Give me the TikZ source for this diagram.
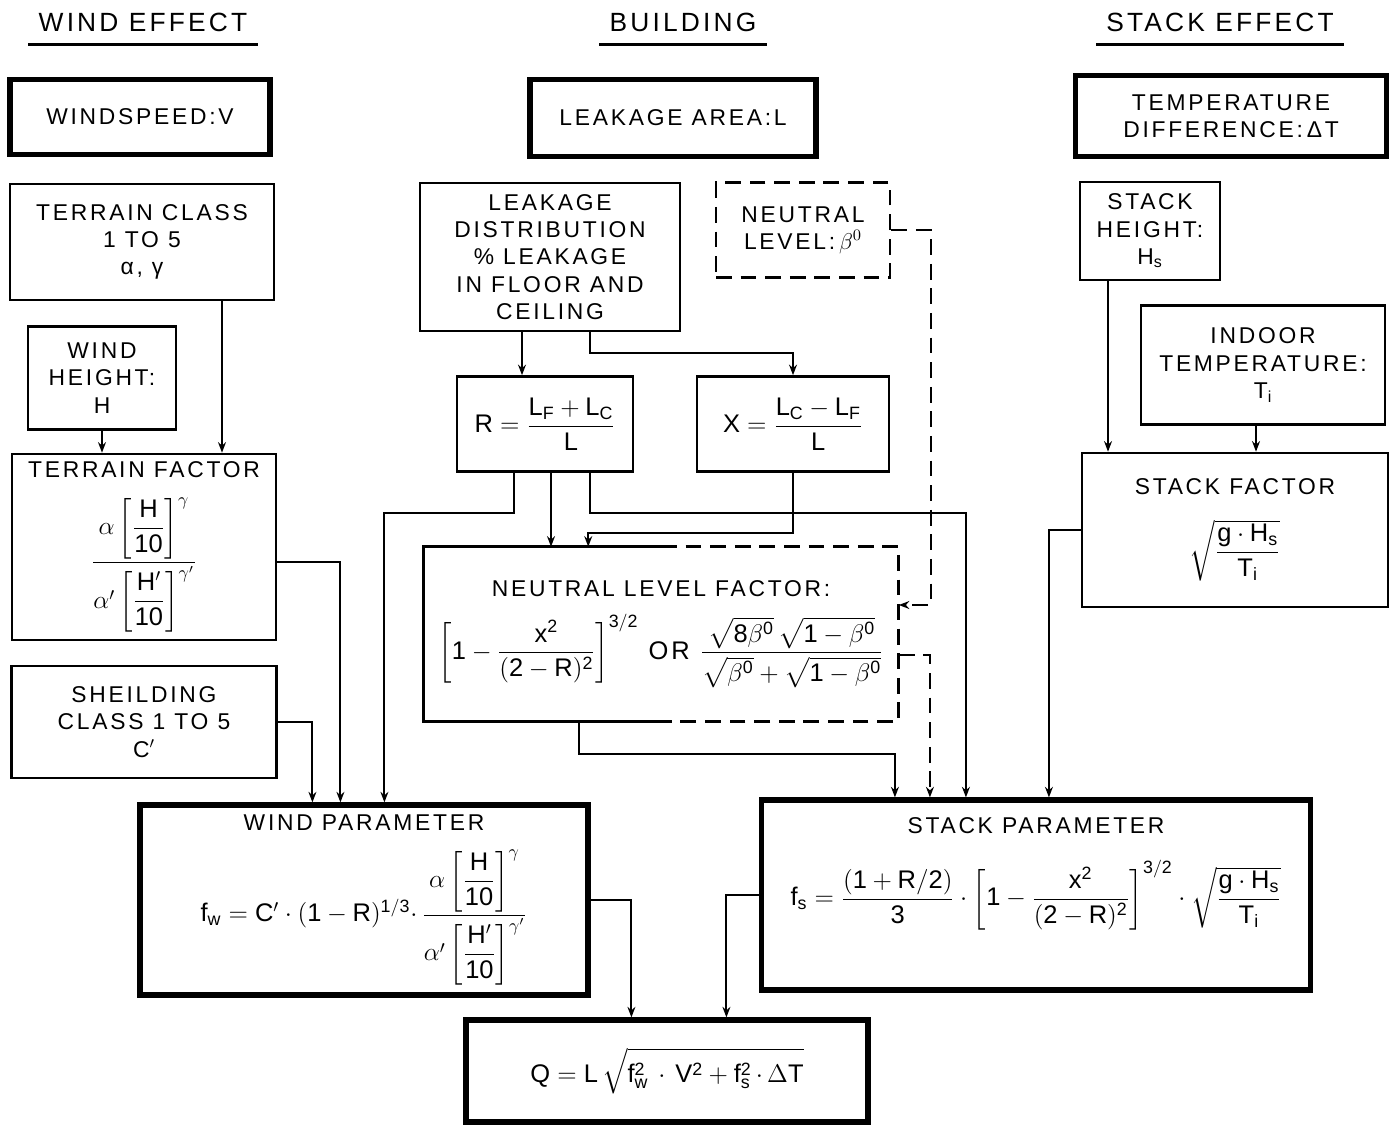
\documentclass[tikz,border=0pt]{standalone}
\usepackage{fix-cm}
\usepackage{amsmath}
\usepackage{fontspec}
\setmainfont{Liberation Sans}[LetterSpace=12]
\setsansfont{Liberation Sans}
\usepackage{tikz}
\usetikzlibrary{arrows.meta,positioning,calc}

\newcommand{\mathbig}{\fontsize{14.5}{17}\selectfont}
\newcommand{\terrainfrac}{\mathsf{\dfrac{\alpha\left[\dfrac{H}{10}\right]^{\gamma}}{\alpha'\left[\dfrac{H'}{10}\right]^{\gamma'}}}}

\tikzset{
  thinbox/.style={draw, line width=1.5pt, align=center, inner sep=2pt},
  thickbox/.style={draw, line width=3pt, align=center, inner sep=2pt},
  dashbox/.style={thinbox, dash pattern=on 9pt off 5pt},
  dashline/.style={dash pattern=on 9pt off 5pt},
  arr/.style={-{Stealth[length=6pt,width=4.5pt]}, line width=1.2pt},
  heading/.style={font=\fontsize{15}{18}\selectfont, inner xsep=0.2cm, inner ysep=0.26cm},
}

\begin{document}
\begin{tikzpicture}[x=0.02cm, y=-0.02cm, font=\fontsize{13}{15.5}\selectfont]
  \useasboundingbox (0,0) rectangle (1391,1125);

  % column headings
  \node[heading] (hwind) at (143,22) {WIND EFFECT};
  \node[heading] (hbuild) at (683,22) {BUILDING};
  \node[heading] (hstack) at (1220,22) {STACK EFFECT};
  \foreach \h in {hwind,hbuild,hstack}
    \draw[line width=1.6pt] (\h.south west) -- (\h.south east);

  % wind effect
  \node[thickbox, minimum width=5.2cm, minimum height=1.5cm] (wspeed) at (140,117) {WINDSPEED:V};
  \node[thinbox, minimum width=5.28cm, minimum height=2.32cm] (tclass) at (142,242)
    {TERRAIN CLASS\\1 TO 5\\α, γ};
  \node[thinbox, minimum width=2.96cm, minimum height=2.06cm] (wheight) at (102,378)
    {WIND\\HEIGHT:\\H};
  \node[thinbox, minimum width=5.28cm, minimum height=3.72cm] (tfactor) at (144,547)
    {TERRAIN FACTOR\\[10pt] {\mathbig $\terrainfrac$}};
  \node[thinbox, minimum width=5.3cm, minimum height=2.24cm] (shield) at (144,722)
    {SHEILDING\\CLASS 1 TO 5\\C$'$};

  % building
  \node[thickbox, minimum width=5.72cm, minimum height=1.54cm] (larea) at (673,118) {LEAKAGE AREA:L};
  \node[thinbox, minimum width=5.2cm, minimum height=2.96cm] (ldist) at (550,257)
    {LEAKAGE\\DISTRIBUTION\\\% LEAKAGE\\IN FLOOR AND\\CEILING};
  \node[dashbox, minimum width=3.48cm, minimum height=1.9cm] (nlevel) at (803,230)
    {NEUTRAL\\LEVEL:\,$\beta^{0}$};
  \node[thinbox, minimum width=3.52cm, minimum height=1.9cm] (rbox) at (545,424)
    {\mathbig $\mathsf{R=\dfrac{L_F+L_C}{L}}$};
  \node[thinbox, minimum width=3.84cm, minimum height=1.9cm] (xbox) at (793,424)
    {\mathbig $\mathsf{X=\dfrac{L_C-L_F}{L}}$};
  \node[thinbox, draw=none, minimum width=9.46cm, minimum height=3.44cm] (nlf) at (661,634)
    {NEUTRAL LEVEL FACTOR:\\[9pt]
     {\mathbig $\mathsf{\left[1-\dfrac{x^{2}}{(2-R)^{2}}\right]^{3/2}}$ OR
     $\mathsf{\dfrac{\sqrt{8\beta^{0}}\,\sqrt{1-\beta^{0}}}{\sqrt{\beta^{0}}+\sqrt{1-\beta^{0}}}}$}};
  \draw[line width=1.5pt] (nlf.north) -| (nlf.south west) -- (nlf.south);
  \draw[line width=1.5pt, dashline] (nlf.north) -| (nlf.south east) -- (nlf.south);

  % stack effect
  \node[thickbox, minimum width=6.22cm, minimum height=1.62cm] (tdiff) at (1231,116)
    {TEMPERATURE\\DIFFERENCE:\,ΔT};
  \node[thinbox, minimum width=2.8cm, minimum height=1.96cm] (sheight) at (1150,231)
    {STACK\\HEIGHT:\\$\mathsf{H_s}$};
  \node[thinbox, minimum width=4.88cm, minimum height=2.38cm] (itemp) at (1263,365)
    {INDOOR\\TEMPERATURE:\\$\mathsf{T_i}$};
  \node[thinbox, minimum width=6.12cm, minimum height=3.08cm] (sfactor) at (1235,530)
    {STACK FACTOR\\[13pt] {\mathbig $\mathsf{\sqrt{\dfrac{g\cdot H_s}{T_i}}}$}};

  % parameters and result
  \node[thickbox, minimum width=8.96cm, minimum height=3.8cm] (wparam) at (364,900)
    {WIND PARAMETER\\[10pt] {\mathbig $\mathsf{f_w=C'\cdot(1-R)^{1/3}\cdot}\,\terrainfrac$}};
  \node[thickbox, minimum width=10.98cm, minimum height=3.8cm,
    label={[anchor=north, yshift=-8pt]north:STACK PARAMETER}] (sparam) at (1036,895)
    {\mathbig $\mathsf{f_s=\dfrac{(1+R/2)}{3}\cdot\left[1-\dfrac{x^{2}}{(2-R)^{2}}\right]^{3/2}\cdot\sqrt{\dfrac{g\cdot H_s}{T_i}}}$};
  \node[thickbox, minimum width=8.04cm, minimum height=2.04cm] (qbox) at (667,1071)
    {\mathbig $\mathsf{Q=L}\,\sqrt{\rule{0pt}{15pt}\mathsf{f_w^{2}\,\cdot\,V^{2}+f_s^{2}\,\cdot\,}\Delta\mathsf{T}}$};

  % connectors, wind side
  \coordinate (t1) at ($(tclass.south)+(80,0)$);
  \draw[arr] (t1) -- (t1 |- tfactor.north);
  \draw[arr] (wheight.south) -- (wheight.south |- tfactor.north);
  \draw[arr] ($(tfactor.east)+(0,15)$) -| ($(wparam.north west)+(203,0)$);
  \draw[arr] (shield.east) -| ($(wparam.north west)+(175,0)$);

  % connectors, building
  \coordinate (l1) at ($(ldist.south)+(-28,0)$);
  \draw[arr] (l1) -- (l1 |- rbox.north);
  \draw[arr] ($(ldist.south)+(40,0)$) -- ++(0,21) -| (xbox.north);
  \draw[arr] ($(rbox.south)+(-31,0)$) -- ++(0,40) -| ($(wparam.north west)+(247,0)$);
  \coordinate (r2) at ($(rbox.south)+(6,0)$);
  \draw[arr] (r2) -- (r2 |- nlf.north);
  \draw[arr] ($(rbox.south)+(45,0)$) -- ++(0,40) -| ($(sparam.north west)+(207,0)$);
  \draw[arr] (xbox.south) -- ++(0,60) -| ($(nlf.north west)+(165,0)$);
  \draw[arr, dashline] (nlevel.east) -- ++(40,0) |- ($(nlf.east)+(0,-29)$);
  \draw[arr, dashline] ($(nlf.east)+(0,21)$) -| ($(sparam.north west)+(171,0)$);
  \draw[arr] ($(nlf.south)+(-82,0)$) -- ++(0,33) -| ($(sparam.north west)+(136,0)$);

  % connectors, stack side
  \coordinate (s1) at ($(sheight.south)+(-42,0)$);
  \draw[arr] (s1) -- (s1 |- sfactor.north);
  \coordinate (s2) at ($(itemp.south)+(-7,0)$);
  \draw[arr] (s2) -- (s2 |- sfactor.north);
  \draw[arr] (sfactor.west) -| ($(sparam.north west)+(290,0)$);

  % to the result
  \draw[arr] (wparam.east) -| ($(qbox.north west)+(168,0)$);
  \draw[arr] (sparam.west) -| ($(qbox.north west)+(263,0)$);
\end{tikzpicture}
\end{document}
